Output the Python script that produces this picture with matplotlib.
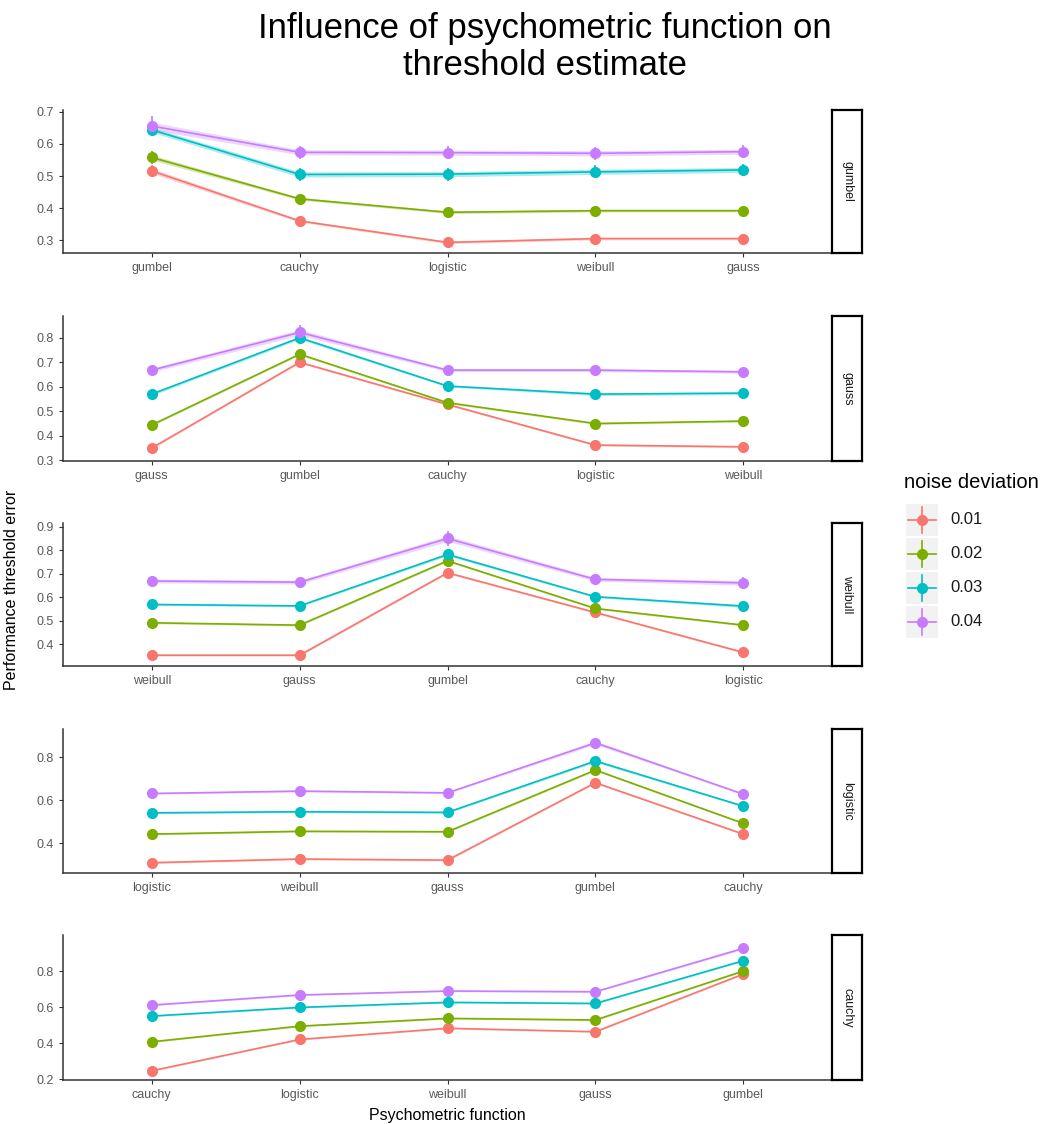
import matplotlib
matplotlib.use("Agg")
import matplotlib.pyplot as plt
from matplotlib.patches import Rectangle
import numpy as np

plt.rcParams['font.family'] = ['Liberation Sans', 'DejaVu Sans']

# facet -> order of psychometric functions on the x axis
facets = ["gumbel", "gauss", "weibull", "logistic", "cauchy"]
cats = {
    "gumbel":   ["gumbel", "cauchy", "logistic", "weibull", "gauss"],
    "gauss":    ["gauss", "gumbel", "cauchy", "logistic", "weibull"],
    "weibull":  ["weibull", "gauss", "gumbel", "cauchy", "logistic"],
    "logistic": ["logistic", "weibull", "gauss", "gumbel", "cauchy"],
    "cauchy":   ["cauchy", "logistic", "weibull", "gauss", "gumbel"],
}
noise = ["0.01", "0.02", "0.03", "0.04"]
colors = ["#F8766D", "#7CAE00", "#00BFC4", "#C77CFF"]

# mean threshold error per facet, one row per noise level
means = {
    "gumbel": [[0.516, 0.360, 0.293, 0.305, 0.305],
               [0.558, 0.429, 0.387, 0.392, 0.392],
               [0.644, 0.505, 0.506, 0.513, 0.519],
               [0.656, 0.574, 0.573, 0.571, 0.576]],
    "gauss": [[0.350, 0.700, 0.528, 0.362, 0.355],
              [0.444, 0.733, 0.535, 0.450, 0.460],
              [0.570, 0.800, 0.603, 0.570, 0.574],
              [0.668, 0.822, 0.668, 0.668, 0.661]],
    "weibull": [[0.353, 0.353, 0.704, 0.535, 0.365],
                [0.491, 0.481, 0.755, 0.552, 0.481],
                [0.569, 0.563, 0.782, 0.602, 0.562],
                [0.669, 0.664, 0.850, 0.676, 0.661]],
    "logistic": [[0.310, 0.327, 0.322, 0.682, 0.443],
                 [0.443, 0.456, 0.454, 0.741, 0.493],
                 [0.542, 0.547, 0.544, 0.783, 0.573],
                 [0.632, 0.643, 0.635, 0.868, 0.629]],
    "cauchy": [[0.246, 0.420, 0.482, 0.463, 0.783],
               [0.407, 0.494, 0.537, 0.528, 0.800],
               [0.550, 0.598, 0.626, 0.620, 0.857],
               [0.611, 0.667, 0.689, 0.685, 0.926]],
}
# standard errors (small vertical bars)
errs = {
    "gumbel": [[0.02, 0.01, 0.01, 0.01, 0.01],
               [0.02, 0.01, 0.01, 0.01, 0.01],
               [0.02, 0.02, 0.02, 0.02, 0.02],
               [0.03, 0.02, 0.02, 0.02, 0.02]],
    "gauss": [[0.01, 0.01, 0.01, 0.01, 0.01],
              [0.01, 0.01, 0.01, 0.01, 0.01],
              [0.015, 0.015, 0.01, 0.015, 0.015],
              [0.02, 0.03, 0.015, 0.015, 0.015]],
    "weibull": [[0.01, 0.01, 0.01, 0.01, 0.01],
                [0.01, 0.01, 0.01, 0.01, 0.01],
                [0.01, 0.01, 0.015, 0.01, 0.015],
                [0.02, 0.02, 0.03, 0.02, 0.025]],
    "logistic": [[0.01, 0.01, 0.01, 0.01, 0.01],
                 [0.01, 0.01, 0.01, 0.01, 0.01],
                 [0.01, 0.01, 0.01, 0.015, 0.01],
                 [0.01, 0.01, 0.01, 0.02, 0.01]],
    "cauchy": [[0.01, 0.01, 0.01, 0.01, 0.01],
               [0.01, 0.01, 0.01, 0.01, 0.01],
               [0.01, 0.01, 0.01, 0.01, 0.01],
               [0.01, 0.01, 0.01, 0.01, 0.015]],
}

# layout (pixels)
W, H = 1053, 1124
panel_px = [(110, 253), (316, 461), (523, 666), (729, 873), (935, 1080)]
ylims = [(0.26, 0.706), (0.297, 0.889), (0.307, 0.916), (0.262, 0.932), (0.195, 1.0)]
yticks = [np.arange(0.3, 0.71, 0.1), np.arange(0.3, 0.81, 0.1), np.arange(0.4, 0.91, 0.1),
          [0.4, 0.6, 0.8], [0.2, 0.4, 0.6, 0.8]]
x0, x1 = 63, 832
sx0, sx1 = 832, 862

fig = plt.figure(figsize=(W / 100, H / 100), dpi=100)
tick_col = "#5A5A5A"

for k, f in enumerate(facets):
    top, bot = panel_px[k]
    ax = fig.add_axes([x0 / W, 1 - bot / H, (x1 - x0) / W, (bot - top) / H])
    xs = np.arange(5)
    for i in range(4):
        m = np.array(means[f][i])
        e = np.array(errs[f][i])
        ax.fill_between(xs, m - e * 0.4, m + e * 0.4, color=colors[i], alpha=0.3, lw=0)
        ax.plot(xs, m, color=colors[i], lw=1.2, zorder=3)
        ax.errorbar(xs, m, yerr=e, fmt="o", color=colors[i], ms=7, elinewidth=1.2,
                    capsize=0, zorder=4)
    ax.set_xlim(-0.6, 4.6)
    ax.set_ylim(*ylims[k])
    ax.set_yticks(yticks[k])
    ax.set_yticklabels(["%g" % round(v, 1) for v in yticks[k]])
    ax.set_xticks(xs)
    ax.set_xticklabels(cats[f])
    ax.tick_params(labelsize=9, labelcolor=tick_col, color="#333333", length=3, width=0.8)
    for s in ["top", "right"]:
        ax.spines[s].set_visible(False)
    for s in ["left", "bottom"]:
        ax.spines[s].set_linewidth(1.1)
        ax.spines[s].set_color("#333333")
    # facet strip
    sax = fig.add_axes([sx0 / W, 1 - bot / H, (sx1 - sx0) / W, (bot - top) / H])
    sax.set_xticks([])
    sax.set_yticks([])
    for s in sax.spines.values():
        s.set_linewidth(1.6)
        s.set_color("black")
    sax.text(0.5, 0.5, f, rotation=-90, ha="center", va="center", fontsize=9,
             color="#1A1A1A", transform=sax.transAxes)
    if k == 4:
        ax.set_xlabel("Psychometric function", fontsize=11.5, labelpad=5)

fig.text(12 / W, 1 - 590 / H, "Performance threshold error", rotation=90,
         ha="center", va="center", fontsize=11.5)
fig.text(545 / W, 1 - 47 / H, "Influence of psychometric function on\nthreshold estimate",
         ha="center", va="center", fontsize=25, linespacing=1.17)

# legend
lax = fig.add_axes([0, 0, 1, 1], facecolor="none")
lax.set_xlim(0, W)
lax.set_ylim(H, 0)
lax.axis("off")
lax.text(904, 483, "noise deviation", fontsize=14.5, va="center", ha="left")
key_y = [520, 554, 588, 622]
for i, lab in enumerate(noise):
    cy = key_y[i]
    lax.add_patch(Rectangle((906, cy - 16), 32, 32, color="#F2F2F2", lw=0))
    lax.plot([908, 936], [cy, cy], color=colors[i], lw=1.2)
    lax.plot([922, 922], [cy - 13, cy + 13], color=colors[i], lw=1.2)
    lax.plot([922], [cy], "o", color=colors[i], ms=7)
    lax.text(950, cy, lab, fontsize=12, va="center", ha="left", color="#1A1A1A")

fig.savefig("out.png", dpi=100)
